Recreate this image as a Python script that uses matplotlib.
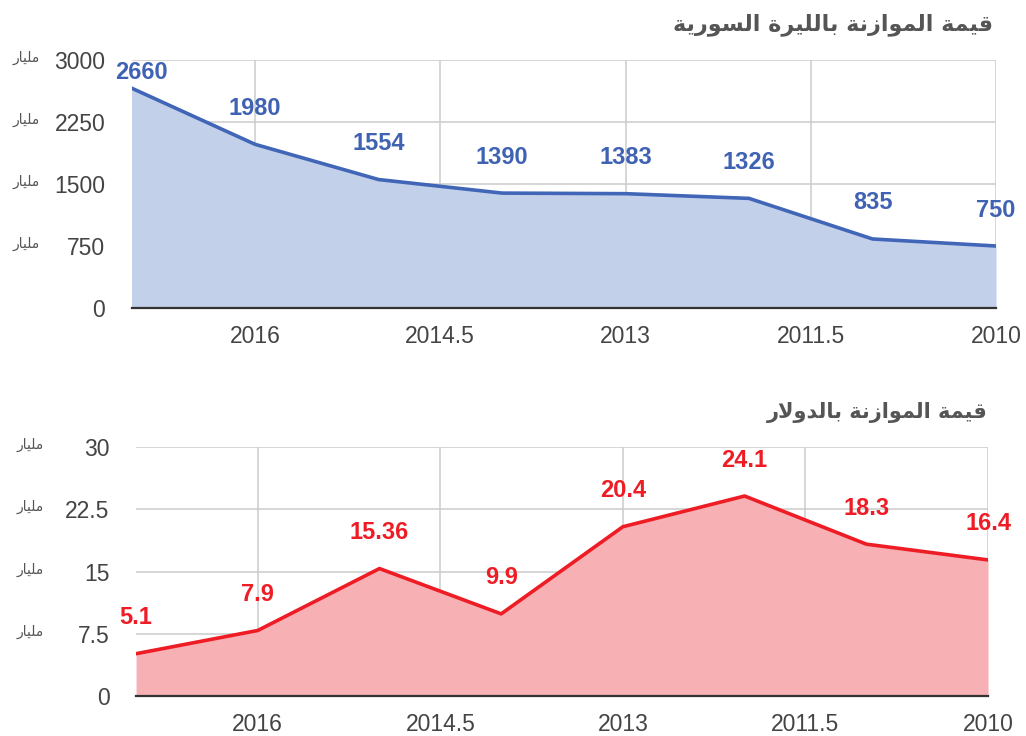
import matplotlib
matplotlib.use("Agg")
import matplotlib.pyplot as plt

# ---------------- data ----------------
years = [2017, 2016, 2015, 2014, 2013, 2012, 2011, 2010]
syp_values = [2660, 1980, 1554, 1390, 1383, 1326, 835, 750]
syp_labels = ["2660", "1980", "1554", "1390", "1383", "1326", "835", "750"]
usd_values = [5.1, 7.9, 15.36, 9.9, 20.4, 24.1, 18.3, 16.4]
usd_labels = ["5.1", "7.9", "15.36", "9.9", "20.4", "24.1", "18.3", "16.4"]
x_ticks = [2016, 2014.5, 2013, 2011.5, 2010]
x_tick_labels = ["2016", "2014.5", "2013", "2011.5", "2010"]
syp_yticks = [0, 750, 1500, 2250, 3000]
syp_ytick_labels = ["0", "750", "1500", "2250", "3000"]
usd_yticks = [0, 7.5, 15, 22.5, 30]
usd_ytick_labels = ["0", "7.5", "15", "22.5", "30"]
title_syp = "قيمة الموازنة بالليرة السورية"
title_usd = "قيمة الموازنة بالدولار"
unit_word = "مليار"

# ------------- minimal Arabic shaping (presentation forms, visual order) -------------
FORMS = {
    "\u0627": ("\uFE8D", "\uFE8E", None, None),
    "\u0628": ("\uFE8F", "\uFE90", "\uFE91", "\uFE92"),
    "\u0629": ("\uFE93", "\uFE94", None, None),
    "\u062F": ("\uFEA9", "\uFEAA", None, None),
    "\u0631": ("\uFEAD", "\uFEAE", None, None),
    "\u0632": ("\uFEAF", "\uFEB0", None, None),
    "\u0633": ("\uFEB1", "\uFEB2", "\uFEB3", "\uFEB4"),
    "\u0642": ("\uFED5", "\uFED6", "\uFED7", "\uFED8"),
    "\u0644": ("\uFEDD", "\uFEDE", "\uFEDF", "\uFEE0"),
    "\u0645": ("\uFEE1", "\uFEE2", "\uFEE3", "\uFEE4"),
    "\u0646": ("\uFEE5", "\uFEE6", "\uFEE7", "\uFEE8"),
    "\u0648": ("\uFEED", "\uFEEE", None, None),
    "\u064A": ("\uFEF1", "\uFEF2", "\uFEF3", "\uFEF4"),
}


def shape_arabic(text):
    out = []
    chars = list(text)
    i = 0
    n = len(chars)
    while i < n:
        c = chars[i]
        if c not in FORMS:
            out.append(c)
            i += 1
            continue
        prev = chars[i - 1] if i > 0 else None
        joins_prev = prev in FORMS and FORMS[prev][2] is not None
        nxt = chars[i + 1] if i + 1 < n else None
        if c == "\u0644" and nxt == "\u0627":
            out.append("\uFEFC" if joins_prev else "\uFEFB")
            i += 2
            continue
        dual = FORMS[c][2] is not None
        joins_next = dual and nxt in FORMS
        iso, fin, ini, med = FORMS[c]
        if joins_prev and joins_next:
            out.append(med)
        elif joins_prev:
            out.append(fin)
        elif joins_next:
            out.append(ini)
        else:
            out.append(iso)
        i += 1
    return "".join(reversed(out))


plt.rcParams["font.family"] = ["Liberation Sans", "DejaVu Sans"]

fig = plt.figure(figsize=(10.26, 7.36), dpi=100)
fig.patch.set_facecolor("white")

ax1 = fig.add_axes([0.1282, 0.5815, 0.8426, 0.337])
ax2 = fig.add_axes([0.1326, 0.0543, 0.8304, 0.3383])


def style_axes(ax, yticks, ylabels, ymax):
    ax.set_xlim(2017, 2010)
    ax.set_ylim(0, ymax)
    for s in ax.spines.values():
        s.set_visible(False)
    ax.set_xticks(x_ticks)
    ax.set_xticklabels(x_tick_labels)
    ax.set_yticks(yticks)
    ax.set_yticklabels(ylabels)
    ax.tick_params(axis="both", length=0, labelsize=16.5, labelcolor="#444444")
    ax.tick_params(axis="x", pad=12)
    ax.tick_params(axis="y", pad=19)
    ax.grid(True, color="#cccccc", lw=1.1)
    ax.set_axisbelow(True)
    ax.axhline(0, color="#333333", lw=1.6, zorder=5, clip_on=False)
    # unit labels
    for yt in yticks[1:]:
        ax.annotate(shape_arabic(unit_word), xy=(0, yt), xycoords=("axes fraction", "data"),
                    xytext=(-92, 2), textcoords="offset pixels", ha="right", va="center",
                    fontsize=10, color="#555555", family="DejaVu Sans")


def draw_series(ax, values, labels, line_color, fill_color, label_color, ymax):
    ax.fill_between(years, values, 0, color=fill_color, lw=0, zorder=2)
    ax.plot(years, values, color=line_color, lw=2.6, zorder=4, solid_joinstyle="round")
    for i, (x, v, t) in enumerate(zip(years, values, labels)):
        dy = 36
        dx = 0
        frac = v / ymax
        pix_to_top = (1 - frac) * ax.bbox.height
        if pix_to_top < dy + 10:
            dy = 16
            dx = 10
        ax.annotate(t, xy=(x, v), xytext=(dx, dy), textcoords="offset pixels",
                    ha="center", va="center", fontsize=17, fontweight="bold",
                    color=label_color, zorder=6, annotation_clip=False)


style_axes(ax1, syp_yticks, syp_ytick_labels, 3000)
style_axes(ax2, usd_yticks, usd_ytick_labels, 30)

draw_series(ax1, syp_values, syp_labels, "#4166b7", "#c3d0ea", "#3f62b3", 3000)
draw_series(ax2, usd_values, usd_labels, "#ee1c25", "#f7b0b3", "#ee1c25", 30)

fig.text(993 / 1026, 1 - 25 / 736, shape_arabic(title_syp), ha="right", va="center",
         fontsize=16, fontweight="bold", color="#555555", family="DejaVu Sans")
fig.text(988 / 1026, 1 - 412 / 736, shape_arabic(title_usd), ha="right", va="center",
         fontsize=15, fontweight="bold", color="#555555", family="DejaVu Sans")

fig.savefig("out.png", dpi=100, facecolor="white")
